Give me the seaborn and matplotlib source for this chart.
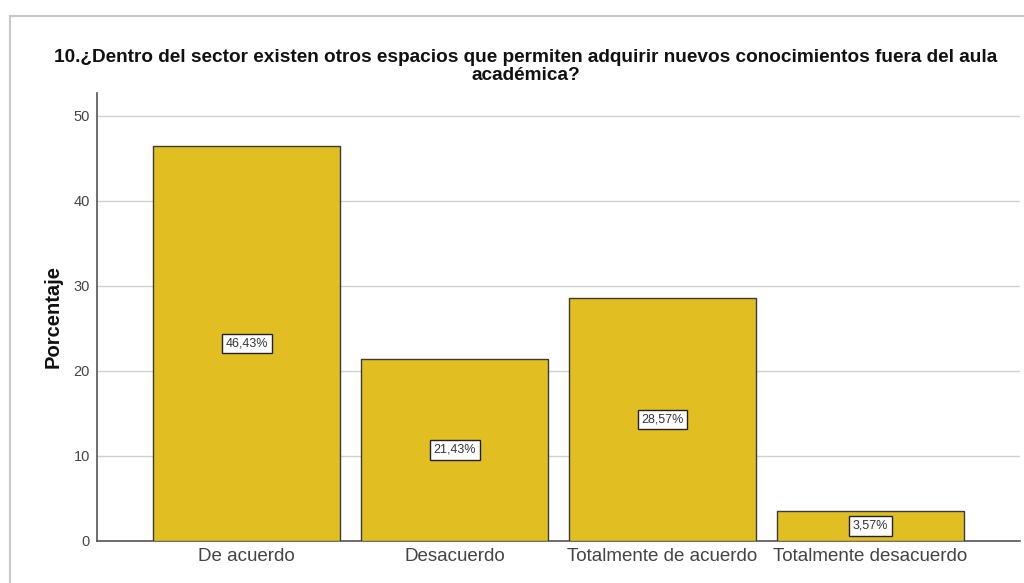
import matplotlib
matplotlib.use("Agg")
import matplotlib.pyplot as plt
import seaborn as sns
import pandas as pd
from matplotlib.patches import Rectangle

categories = ["De acuerdo", "Desacuerdo", "Totalmente de acuerdo", "Totalmente desacuerdo"]
values = [46.43, 21.43, 28.57, 3.57]
labels = ["46,43%", "21,43%", "28,57%", "3,57%"]
yticks = [0, 10, 20, 30, 40, 50]

sns.set_theme(style="white")
plt.rcParams['font.family'] = ['Liberation Sans', 'DejaVu Sans']

fig = plt.figure(figsize=(10.24, 5.83), dpi=100)
# outer frame
fig.patches.append(Rectangle((10/1024, -0.1), 1.2, (583-16)/583 + 0.1, transform=fig.transFigure,
                             fill=False, edgecolor="#c8c8c8", linewidth=1.5, zorder=0))
ax = fig.add_axes([97/1024, 1-541/583, (1020-97)/1024, (541-93)/583])

df = pd.DataFrame({"cat": categories, "val": values})
sns.barplot(data=df, x="cat", y="val", color="#E1BE22", saturation=1, width=0.9,
            edgecolor="#3a3a3a", linewidth=1.0, ax=ax, zorder=3)

ax.set_xlim(-0.72, 3.72)
ax.set_ylim(0, 52.7)
ax.set_yticks(yticks)
ax.set_yticklabels([str(t) for t in yticks], fontsize=10.5, color="#444444")
ax.tick_params(axis="y", length=0, pad=5)
ax.tick_params(axis="x", length=0, labelsize=13.5, labelcolor="#444444", pad=5)
ax.yaxis.grid(True, color="#d0d0d0", linewidth=1.0, zorder=0)
ax.set_axisbelow(True)
for s in ["top", "right"]:
    ax.spines[s].set_visible(False)
for s in ["left", "bottom"]:
    ax.spines[s].set_color("#555555")
    ax.spines[s].set_linewidth(1.2)

ax.set_xlabel("")
ax.set_ylabel("Porcentaje", fontsize=14.5, fontweight="bold", color="#111111", labelpad=8)

ax.bar_label(ax.containers[0], labels=labels, label_type="center", fontsize=9, color="#333333",
             bbox=dict(boxstyle="square,pad=0.3", facecolor="white", edgecolor="#222222", linewidth=1.0))

fig.text(526/1024, 1-58/583, "10.¿Dentro del sector existen otros espacios que permiten adquirir nuevos conocimientos fuera del aula",
         ha="center", va="center", fontsize=13.7, fontweight="bold", color="#111111")
fig.text(526/1024, 1-75/583, "académica?", ha="center", va="center", fontsize=13.7, fontweight="bold", color="#111111")

fig.savefig("out.png", dpi=100, facecolor="white")
